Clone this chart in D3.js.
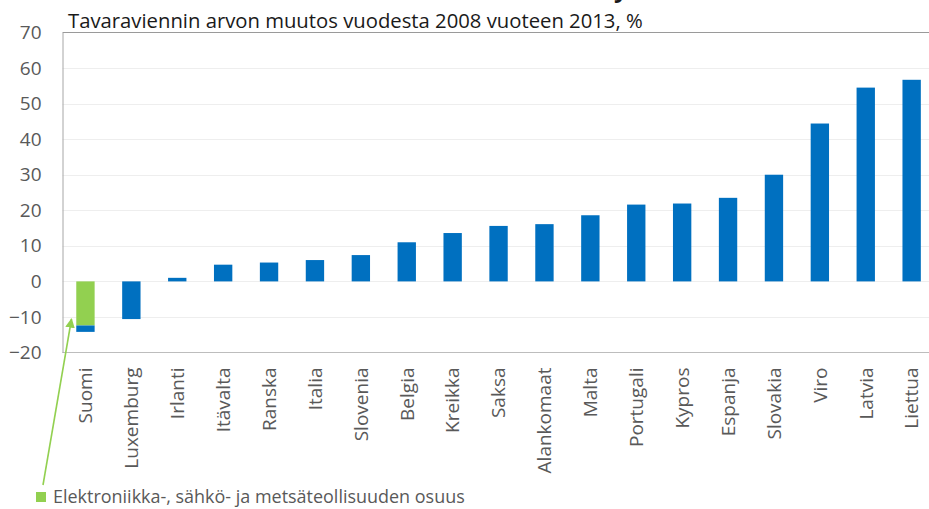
<!DOCTYPE html>
<html>
<head>
<meta charset="utf-8">
<script src="https://cdn.jsdelivr.net/npm/d3@7"></script>
<style>
  html, body { margin: 0; padding: 0; background: #fff; }
  svg { display: block; }
  text { font-family: "Open Sans", "DejaVu Sans", sans-serif; }
</style>
</head>
<body>
<svg id="chart" width="929" height="509"></svg>
<script>
// ---- data ----
const categories = ["Suomi","Luxemburg","Irlanti","Itävalta","Ranska","Italia","Slovenia","Belgia","Kreikka","Saksa","Alankomaat","Malta","Portugali","Kypros","Espanja","Slovakia","Viro","Latvia","Liettua"];
// total change of goods exports value 2008 -> 2013, %
const totalChange = [-14.2, -10.6, 1.0, 4.7, 5.3, 6.0, 7.4, 11.0, 13.6, 15.6, 16.1, 18.6, 21.6, 21.9, 23.5, 30.0, 44.4, 54.5, 56.7];
// share of electronics, electrical and forest industries (only shown for Finland)
const industryShare = [-12.4, 0, 0, 0, 0, 0, 0, 0, 0, 0, 0, 0, 0, 0, 0, 0, 0, 0, 0];
const yTicks = [-20, -10, 0, 10, 20, 30, 40, 50, 60, 70];
const titleText = "Tavaraviennin arvon muutos vuodesta 2008 vuoteen 2013, %";
const legendText = "Elektroniikka-, sähkö- ja metsäteollisuuden osuus";

(function () {
// ---- layout ----
const svg = d3.select("#chart");
const pLeft = 62.5, pRight = 934.6, pTop = 32.5, pBottom = 352.5;
const blue = "#0070C0", green = "#92D050";

const y = d3.scaleLinear().domain([-20, 70]).range([pBottom, pTop]);
const x = d3.scaleBand().domain(categories).range([pLeft, pRight]).paddingInner(0.6).paddingOuter(0.3);

// gridlines
svg.append("g").selectAll("line")
  .data(yTicks.filter(t => t > -20 && t < 70))
  .join("line")
  .attr("x1", pLeft).attr("x2", 929)
  .attr("y1", d => Math.round(y(d)) + 0.5).attr("y2", d => Math.round(y(d)) + 0.5)
  .attr("stroke", "#eeeeee").attr("stroke-width", 1);

const rows = categories.map((c, i) => ({ c, total: totalChange[i], share: industryShare[i] }));

svg.append("g").selectAll("rect")
  .data(rows.filter(r => r.share !== 0))
  .join("rect")
  .attr("x", d => x(d.c))
  .attr("width", x.bandwidth())
  .attr("y", d => y(Math.max(0, d.share)))
  .attr("height", d => Math.abs(y(d.share) - y(0)))
  .attr("fill", green);

svg.append("g").selectAll("rect")
  .data(rows)
  .join("rect")
  .attr("x", d => x(d.c))
  .attr("width", x.bandwidth())
  .attr("y", d => d.total >= 0 ? y(d.total) : y(d.share))
  .attr("height", d => d.total >= 0 ? y(0) - y(d.total) : y(d.total) - y(d.share))
  .attr("fill", blue);

// frame lines
svg.append("line").attr("x1", pLeft).attr("x2", 929).attr("y1", pTop).attr("y2", pTop)
  .attr("stroke", "#9a9a9a").attr("stroke-width", 1);
svg.append("line").attr("x1", pLeft).attr("x2", 929).attr("y1", pBottom).attr("y2", pBottom)
  .attr("stroke", "#bdbdbd").attr("stroke-width", 1);

// y axis
const yAxis = d3.axisLeft(y).tickValues(yTicks).tickSize(0).tickPadding(21);
const gy = svg.append("g").attr("transform", `translate(${pLeft},0)`).call(yAxis);
gy.select(".domain").attr("stroke", "#a6a6a6");
gy.selectAll("text").attr("font-size", 19).attr("fill", "#595959")
  .style("font-family", '"Open Sans", sans-serif');

// x axis labels (rotated)
const xAxis = d3.axisBottom(x).tickSize(0).tickPadding(0);
const gx = svg.append("g").attr("transform", `translate(0,${pBottom})`).call(xAxis);
gx.select(".domain").remove();
gx.selectAll("text")
  .attr("font-size", 19).attr("fill", "#595959")
  .style("font-family", '"Open Sans", sans-serif')
  .attr("text-anchor", "end")
  .attr("transform", "rotate(-90)")
  .attr("x", -15).attr("y", 0).attr("dy", "0.36em");

// title
const title = svg.append("text").attr("x", 68).attr("y", 28)
  .attr("font-size", 18).attr("fill", "#1a1a1a").text(titleText);
const tw = title.node().getComputedTextLength();
title.attr("font-size", 18 * 575 / tw);

// cut-off glyph of a heading above the visible area (as in the reference)
svg.append("text").attr("x", 614).attr("y", -3).attr("font-size", 24)
  .attr("font-weight", "bold").attr("fill", "#1a1a1a").text("y");

// legend
svg.append("rect").attr("x", 36).attr("y", 492).attr("width", 10).attr("height", 10).attr("fill", green);
const leg = svg.append("text").attr("x", 53).attr("y", 503)
  .attr("font-size", 17).attr("fill", "#595959").text(legendText);
const lw = leg.node().getComputedTextLength();
leg.attr("font-size", 17 * 412 / lw);

// annotation arrow
const defs = svg.append("defs");
defs.append("marker").attr("id", "arr").attr("viewBox", "0 0 10 10")
  .attr("refX", 9).attr("refY", 5).attr("markerWidth", 6).attr("markerHeight", 6)
  .attr("orient", "auto-start-reverse")
  .append("path").attr("d", "M0,0 L10,5 L0,10 z").attr("fill", green);
svg.append("line").attr("x1", 43).attr("y1", 485).attr("x2", 71.5).attr("y2", 319)
  .attr("stroke", green).attr("stroke-width", 1.6).attr("marker-end", "url(#arr)");
})();
</script>
</body>
</html>
